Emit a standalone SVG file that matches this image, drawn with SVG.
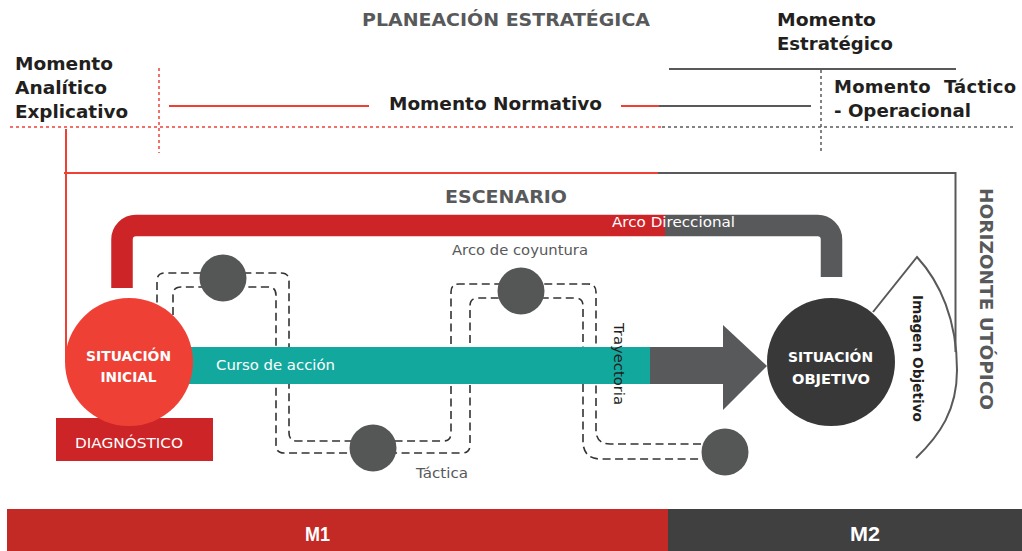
<svg xmlns="http://www.w3.org/2000/svg" width="1022" height="551" viewBox="0 0 1022 551">
<style>
text{font-family:"DejaVu Sans","Liberation Sans",sans-serif}
.h{font-weight:bold;font-size:18px;fill:#231F20}
.g{fill:#58595B}
.w{fill:#FFFFFF}
.r{font-size:14px}
.b{font-weight:bold}
.dotR{stroke:#EF4036;stroke-width:1.5;stroke-dasharray:3 3;fill:none}
.dotG{stroke:#58595B;stroke-width:1.5;stroke-dasharray:3 3;fill:none}
.ln{stroke-width:2;fill:none}
.dash{stroke:#333333;stroke-width:1.6;stroke-dasharray:8 4.5;fill:none}
.dot{fill:#555756}
</style>
<rect width="1022" height="551" fill="#FFFFFF"/>
<g id="header">
<text class="h g" x="362" y="26" textLength="288" lengthAdjust="spacingAndGlyphs">PLANEACIÓN ESTRATÉGICA</text>
<text class="h" x="777" y="26" textLength="99" lengthAdjust="spacingAndGlyphs">Momento</text>
<text class="h" x="777" y="50" textLength="116" lengthAdjust="spacingAndGlyphs">Estratégico</text>
<text class="h" x="15" y="70" textLength="98" lengthAdjust="spacingAndGlyphs">Momento</text>
<text class="h" x="15" y="94" textLength="92" lengthAdjust="spacingAndGlyphs">Analítico</text>
<text class="h" x="15" y="118" textLength="113" lengthAdjust="spacingAndGlyphs">Explicativo</text>
<text class="h" x="389" y="110" textLength="213" lengthAdjust="spacingAndGlyphs">Momento Normativo</text>
<text class="h" x="834" y="93" textLength="182" xml:space="preserve">Momento  Táctico</text>
<text class="h" x="834" y="117" textLength="137" lengthAdjust="spacingAndGlyphs">- Operacional</text>
</g>
<g id="connectors">
<line class="ln" x1="669" y1="69" x2="956" y2="69" stroke="#58595B"/>
<line class="dotR" x1="159" y1="68" x2="159" y2="153"/>
<line class="dotG" x1="821" y1="70" x2="821" y2="153"/>
<line class="dotR" x1="10" y1="127" x2="662" y2="127"/>
<line class="dotG" x1="662" y1="127" x2="1013" y2="127"/>
<line class="ln" x1="169" y1="106" x2="369" y2="106" stroke="#EF4036"/>
<line class="ln" x1="621" y1="106" x2="659" y2="106" stroke="#EF4036"/>
<line class="ln" x1="659" y1="106" x2="811" y2="106" stroke="#58595B"/>
<line class="ln" x1="66" y1="129" x2="66" y2="362" stroke="#EF4036"/>
<line class="ln" x1="64" y1="173" x2="658" y2="173" stroke="#EF4036"/>
<path class="ln" d="M658,173 H955.5 V352" stroke="#58595B"/>
<path d="M122,288 V239.5 A14,14 0 0 1 136,225.5 H665" stroke="#CC2427" stroke-width="21.5" fill="none"/>
<path d="M665,225.5 H817.5 A14,14 0 0 1 831.5,239.5 V277" stroke="#58595B" stroke-width="21.5" fill="none"/>
<path class="dash" d="M157,340 V281 Q157,273 165,273 H281 Q289,273 289,281 V433 Q289,441 297,441 H443 Q451,441 451,433 V292 Q451,284 459,284 H588 Q596,284 596,292 V430 Q596,444 610,444 H710"/>
<path class="dash" d="M173,340 V295 Q173,287 181,287 H268 Q276,287 276,295 V445 Q276,453 284,453 H462 Q470,453 470,445 V306 Q470,298 478,298 H575 Q583,298 583,306 V441 Q583,459 601,459 H710"/>
<rect x="180" y="347" width="471" height="37" fill="#13A89E"/>
<rect x="650" y="347" width="75" height="37" fill="#58595B"/>
<polygon points="723,325 767,366 723,410" fill="#58595B"/>
<path class="ln" d="M873,312 L917,257 C940,282 957,320 957,370 C957,410 940,435 916,458" stroke="#58595B" stroke-width="3"/>
</g>
<g id="tactics">
<circle class="dot" cx="223" cy="278" r="23.5"/>
<circle class="dot" cx="373" cy="448" r="23.5"/>
<circle class="dot" cx="521" cy="291" r="23.5"/>
<circle class="dot" cx="725" cy="452" r="23.5"/>
</g>
<g id="diagnostico">
<rect x="56" y="418" width="157" height="43" fill="#CC2427"/>
<text class="w r" x="75" y="448" textLength="108" lengthAdjust="spacingAndGlyphs">DIAGNÓSTICO</text>
</g>
<g id="situacion-inicial">
<circle cx="129" cy="362" r="64" fill="#EF4036"/>
<text class="w b" x="128.5" y="361" font-size="14" text-anchor="middle" textLength="85" lengthAdjust="spacingAndGlyphs">SITUACIÓN</text>
<text class="w b" x="128.5" y="382" font-size="14" text-anchor="middle" textLength="56" lengthAdjust="spacingAndGlyphs">INICIAL</text>
</g>
<g id="situacion-objetivo">
<circle cx="831" cy="362" r="64" fill="#383838"/>
<text class="w b" x="830.5" y="362" font-size="14" text-anchor="middle" textLength="85" lengthAdjust="spacingAndGlyphs">SITUACIÓN</text>
<text class="w b" x="831" y="384" font-size="14" text-anchor="middle" textLength="78" lengthAdjust="spacingAndGlyphs">OBJETIVO</text>
</g>
<g id="labels">
<text class="g b" x="445" y="203" font-size="17.5" textLength="122" lengthAdjust="spacingAndGlyphs">ESCENARIO</text>
<text class="w r" x="612" y="227" textLength="123" lengthAdjust="spacingAndGlyphs">Arco Direccional</text>
<text class="g r" x="452" y="255" textLength="136" lengthAdjust="spacingAndGlyphs">Arco de coyuntura</text>
<text class="w r" x="216" y="370" textLength="119" lengthAdjust="spacingAndGlyphs">Curso de acción</text>
<text class="g" x="416" y="478" font-size="13.5" textLength="52" lengthAdjust="spacingAndGlyphs">Táctica</text>
<text x="0" y="0" font-size="14" fill="#231F20" transform="translate(613.5,323) rotate(90)" textLength="82" lengthAdjust="spacingAndGlyphs">Trayectoria</text>
<text class="b" x="0" y="0" font-size="13.5" fill="#231F20" transform="translate(913,295) rotate(90)" textLength="127" lengthAdjust="spacingAndGlyphs">Imagen Objetivo</text>
<text class="g b" x="0" y="0" font-size="18.5" transform="translate(980,188) rotate(90)" textLength="222" lengthAdjust="spacingAndGlyphs">HORIZONTE UTÓPICO</text>
</g>
<g id="bars">
<rect x="7" y="509" width="661" height="42" fill="#C42A25"/>
<rect x="668" y="509" width="354" height="42" fill="#404040"/>
<text x="305" y="541" font-size="20" font-weight="bold" fill="#FFFFFF" textLength="25" lengthAdjust="spacingAndGlyphs" style="font-family:'Liberation Sans',sans-serif">M1</text>
<text x="850" y="541" font-size="20" font-weight="bold" fill="#FFFFFF" textLength="30" lengthAdjust="spacingAndGlyphs" style="font-family:'Liberation Sans',sans-serif">M2</text>
</g>
</svg>
